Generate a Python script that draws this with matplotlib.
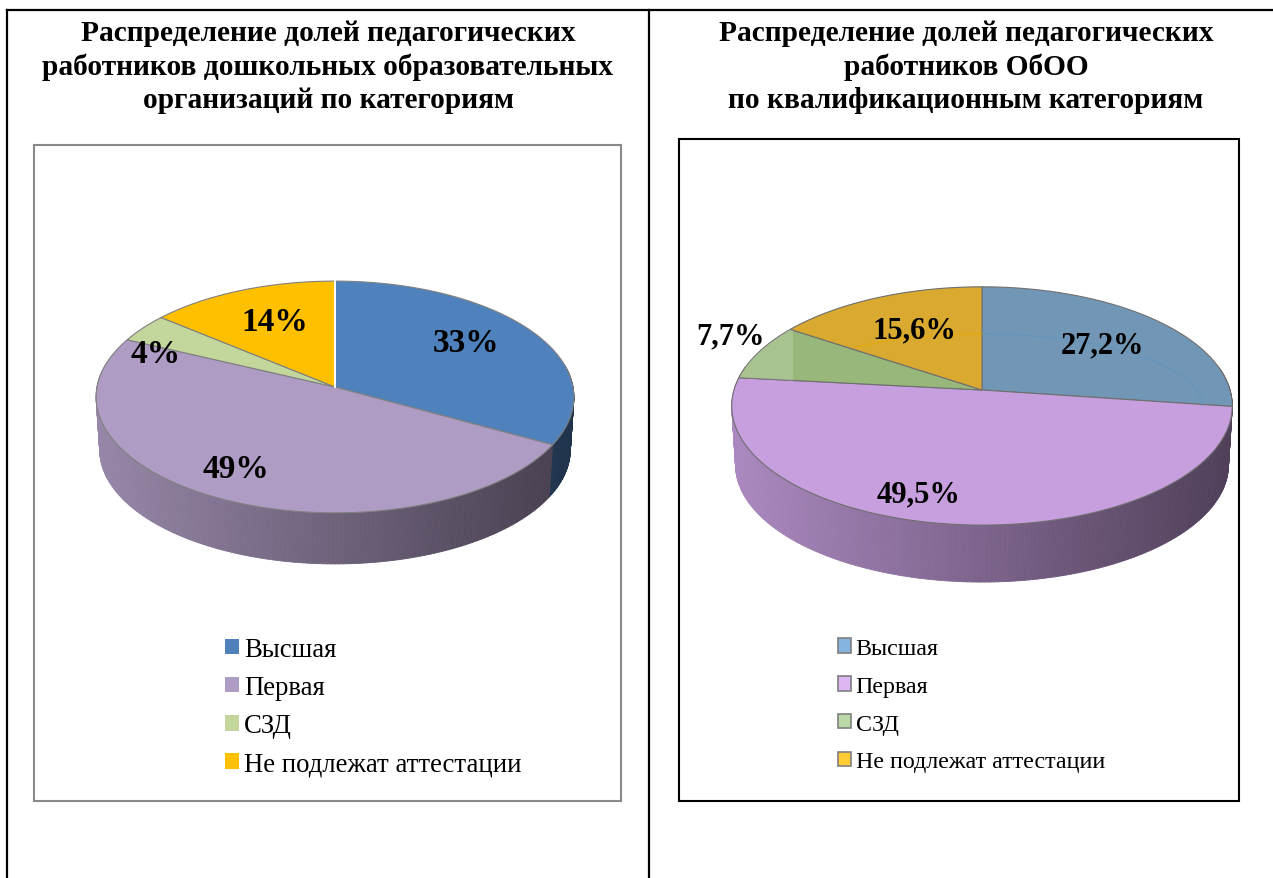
import numpy as np
import matplotlib
matplotlib.use("Agg")
import matplotlib.pyplot as plt
from matplotlib.patches import Patch, Rectangle
from matplotlib.collections import PolyCollection
from matplotlib.colors import to_rgb

plt.rcParams["font.family"] = ["Liberation Serif", "DejaVu Serif"]

categories = ["Высшая", "Первая", "СЗД", "Не подлежат аттестации"]

values_left = [33, 49, 4, 14]
labels_left = ["33%", "49%", "4%", "14%"]
colors_left = ["#4F81BD", "#AF9CC4", "#C3D69B", "#FFC000"]

values_right = [27.2, 49.5, 7.7, 15.6]
labels_right = ["27,2%", "49,5%", "7,7%", "15,6%"]
colors_right = ["#7297B6", "#C79FDF", "#98B87B", "#DAA92F"]
legend_right = ["#85B4E0", "#DDB6F2", "#BBD9A6", "#FFCC33"]

title_left = "Распределение долей педагогических\nработников дошкольных образовательных\nорганизаций по категориям"
title_right = "Распределение долей педагогических\nработников ОбОО\nпо квалификационным категориям"


def rim(theta, cx, cy, b, a, k):
    # theta clockwise from 12 o'clock, disc seen in perspective
    u = np.sin(theta)
    v = np.cos(theta)
    d = 1 + k * v
    return cx + b * u / d, cy - a * v / d


def draw_pie(ax, values, colors, labels, cx, cy, b, a, k, depth, shrink, label_pos, label_size, edge):
    fr = np.cumsum([0] + list(values)) / np.sum(values)
    angles = fr * 2 * np.pi

    # side wall, thin strips that go darker to the right
    strips = []
    cols = []
    for i in range(len(values)):
        th = np.linspace(angles[i], angles[i + 1], 200)
        x, y = rim(th, cx, cy, b, a, k)
        xb = cx + (x - cx) * shrink
        yb = cy + (y - cy) * shrink + depth
        for j in range(len(th) - 1):
            if np.cos(th[j]) > 0.2:
                continue
            strips.append([(x[j], y[j]), (x[j + 1], y[j + 1]), (xb[j + 1], yb[j + 1]), (xb[j], yb[j])])
            t = (x[j] - (cx - b)) / (2 * b)
            cols.append(np.array(to_rgb(colors[i])) * (0.86 - 0.46 * t))
    ax.add_collection(PolyCollection(strips, facecolors=cols, edgecolors=cols, linewidths=0.6, zorder=2))

    # top of the pie
    tops = []
    for i in range(len(values)):
        th = np.linspace(angles[i], angles[i + 1], 200)
        x, y = rim(th, cx, cy, b, a, k)
        tops += ax.fill(np.r_[cx, x], np.r_[cy, y], facecolor=colors[i], edgecolor=edge, linewidth=0.8, zorder=3)

    for lab, (lx, ly) in zip(labels, label_pos):
        ax.text(lx, ly, lab, fontsize=label_size, fontweight="bold", ha="center", va="center", color="black", zorder=5)
    return tops


fig = plt.figure(figsize=(12.73, 8.79), dpi=100)
ax = fig.add_axes([0, 0, 1, 1])
ax.set_xlim(0, 1273)
ax.set_ylim(879, 0)
ax.axis("off")

# table lines
ax.plot([7, 7], [879, 11], color="black", lw=1.6)
ax.plot([7, 1273], [11, 11], color="black", lw=1.6)
ax.plot([649, 649], [11, 879], color="black", lw=1.6)

# chart frames
ax.add_patch(Rectangle((34, 146), 587, 655.5, fill=False, edgecolor="#8A8A8A", lw=1.5))
ax.add_patch(Rectangle((679, 140), 560, 662, fill=False, edgecolor="black", lw=1.5))

ax.text(328, 67, title_left, fontsize=21.2, fontweight="bold", ha="center", va="center", linespacing=1.28)
ax.text(966, 67, title_right, fontsize=21.2, fontweight="bold", ha="center", va="center", linespacing=1.28)

draw_pie(ax, values_left, colors_left, labels_left, 335, 388, 238, 115, 0.086, 53, 0.985,
         [(466, 344), (236, 470), (156, 355), (275, 323)], 24, "#808080")
# white split at 12 o'clock on the left pie
ax.plot([335, 335], [388, 282], color="white", lw=1.4, zorder=4)

tops = draw_pie(ax, values_right, colors_right, labels_right, 982, 391, 248, 117, 0.134, 59, 0.985,
                [(1102, 346), (919, 495), (730, 337), (914, 331)], 22, "#6F6F6F")

# the lighter outer piece of the green slice and the faint glare arc
glare = Rectangle((730, 320), 63, 75, facecolor="white", alpha=0.16, edgecolor="none", zorder=4)
ax.add_patch(glare)
glare.set_clip_path(tops[2])
t = np.radians(np.linspace(0, 90, 80))
ax.plot(982 + 220 * np.sin(t), 407 - 72 * np.cos(t), color="#5F93BE", lw=0.8, alpha=0.7, zorder=4)
t = np.radians(np.linspace(-35, 0, 40))
ax.plot(982 + 220 * np.sin(t), 407 - 72 * np.cos(t), color="#E8A800", lw=0.8, alpha=0.7, zorder=4)

leg1 = fig.legend(handles=[Patch(facecolor=c, edgecolor="none", label=n) for c, n in zip(colors_left, categories)],
                  loc="upper left", bbox_to_anchor=(225 / 1273, 1 - 638 / 879), frameon=False, fontsize=19.3,
                  handlelength=0.52, handleheight=0.52, handletextpad=0.18, labelspacing=0.49, borderpad=0, borderaxespad=0)
leg2 = fig.legend(handles=[Patch(facecolor=c, edgecolor="#7F7F7F", lw=1.2, label=n) for c, n in zip(legend_right, categories)],
                  loc="upper left", bbox_to_anchor=(838 / 1273, 1 - 639 / 879), frameon=False, fontsize=17.3,
                  handlelength=0.55, handleheight=0.55, handletextpad=0.18, labelspacing=0.7, borderpad=0, borderaxespad=0)

fig.savefig("out.png", dpi=100)
